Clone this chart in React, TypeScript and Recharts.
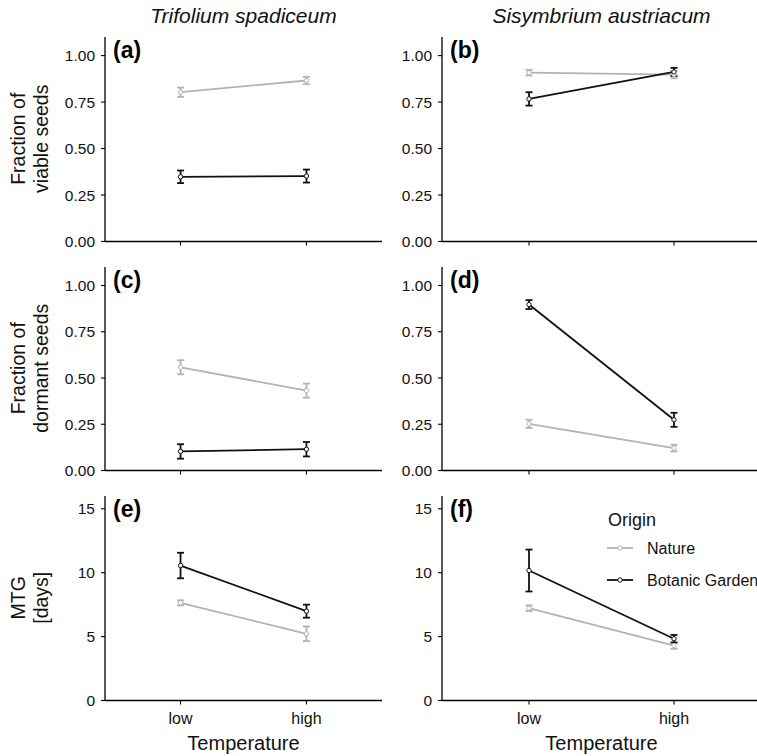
import { LineChart, Line, XAxis, YAxis, ErrorBar } from 'recharts'

const FONT = '"Liberation Sans", Arial, sans-serif'
const GREY = '#b3b3b3'
const BLACK = '#111111'

// x categories
const temps = ['low', 'high']
const tempPos = [1, 2]

// y ticks
const fracTicks = [0, 0.25, 0.5, 0.75, 1]
const mtgTicks = [0, 5, 10, 15]

// (a) Trifolium – viable
const aNature = [0.803, 0.866]
const aNatureSe = [0.025, 0.02]
const aBotanic = [0.348, 0.352]
const aBotanicSe = [0.034, 0.035]

// (b) Sisymbrium – viable
const bNature = [0.908, 0.898]
const bNatureSe = [0.015, 0.02]
const bBotanic = [0.767, 0.912]
const bBotanicSe = [0.036, 0.022]

// (c) Trifolium – dormant
const cNature = [0.558, 0.432]
const cNatureSe = [0.038, 0.038]
const cBotanic = [0.103, 0.115]
const cBotanicSe = [0.039, 0.039]

// (d) Sisymbrium – dormant
const dNature = [0.252, 0.121]
const dNatureSe = [0.022, 0.018]
const dBotanic = [0.897, 0.274]
const dBotanicSe = [0.024, 0.038]

// (e) Trifolium – MTG
const eNature = [7.64, 5.22]
const eNatureSe = [0.2, 0.57]
const eBotanic = [10.56, 6.99]
const eBotanicSe = [1.0, 0.51]

// (f) Sisymbrium – MTG
const fNature = [7.22, 4.3]
const fNatureSe = [0.22, 0.26]
const fBotanic = [10.17, 4.83]
const fBotanicSe = [1.64, 0.3]

const build = (nat: number[], natSe: number[], bot: number[], botSe: number[]) =>
  temps.map((t, i) => ({
    x: tempPos[i],
    nat: nat[i],
    natErr: natSe[i],
    bot: bot[i],
    botErr: botSe[i],
  }))

interface PanelProps {
  data: ReturnType<typeof build>
  x: number
  y: number
  w: number
  h: number
  yMax: number
  ticks: number[]
  fmt: (v: number) => string
  showX: boolean
}

function Panel({ data, x, y, w, h, yMax, ticks, fmt, showX }: PanelProps) {
  return (
    <div style={{ position: 'absolute', left: x - 60, top: y - 10 }}>
      <LineChart width={w + 65} height={h + 50} data={data} margin={{ top: 10, right: 5, bottom: 0, left: 0 }}>
        <XAxis
          type="number"
          dataKey="x"
          domain={[0.4, 2.6]}
          ticks={tempPos}
          allowDataOverflow
          height={40}
          tickSize={4}
          tickMargin={8}
          axisLine={{ stroke: '#000', strokeWidth: 1.3 }}
          tickLine={{ stroke: '#000', strokeWidth: 1.1 }}
          tick={{ fontSize: 16, fill: '#111' }}
          tickFormatter={(v: number) => (showX ? temps[v - 1] : '')}
        />
        <YAxis
          type="number"
          domain={[0, yMax]}
          ticks={ticks}
          allowDataOverflow
          width={60}
          tickSize={4}
          tickMargin={6}
          axisLine={{ stroke: '#000', strokeWidth: 1.3 }}
          tickLine={{ stroke: '#000', strokeWidth: 1.1 }}
          tick={{ fontSize: 15.5, fill: '#111' }}
          tickFormatter={fmt}
        />
        <Line
          dataKey="nat"
          stroke={GREY}
          strokeWidth={1.8}
          dot={{ r: 2.2, fill: '#fff', stroke: GREY, strokeWidth: 1 }}
          isAnimationActive={false}
        >
          <ErrorBar dataKey="natErr" width={3.5} stroke={GREY} strokeWidth={1.8} direction="y" isAnimationActive={false} />
        </Line>
        <Line
          dataKey="bot"
          stroke={BLACK}
          strokeWidth={1.8}
          dot={{ r: 2.2, fill: '#fff', stroke: BLACK, strokeWidth: 1 }}
          isAnimationActive={false}
        >
          <ErrorBar dataKey="botErr" width={3.5} stroke={BLACK} strokeWidth={1.8} direction="y" isAnimationActive={false} />
        </Line>
      </LineChart>
    </div>
  )
}

const frac = (v: number) => v.toFixed(2)
const int = (v: number) => String(v)

const COLS = [
  { x: 105, w: 277 },
  { x: 442, w: 319 },
]
const ROWS = [
  { y: 36.5, h: 204.5 },
  { y: 266.5, h: 203.5 },
  { y: 495.5, h: 204.5 },
]
const panelLabels = ['(a)', '(b)', '(c)', '(d)', '(e)', '(f)']
const rowLabels = [
  ['Fraction of', 'viable seeds'],
  ['Fraction of', 'dormant seeds'],
  ['MTG', '[days]'],
]
const species = ['Trifolium spadiceum', 'Sisymbrium austriacum']

export default function App() {
  const panels = [
    { data: build(aNature, aNatureSe, aBotanic, aBotanicSe), r: 0, c: 0 },
    { data: build(bNature, bNatureSe, bBotanic, bBotanicSe), r: 0, c: 1 },
    { data: build(cNature, cNatureSe, cBotanic, cBotanicSe), r: 1, c: 0 },
    { data: build(dNature, dNatureSe, dBotanic, dBotanicSe), r: 1, c: 1 },
    { data: build(eNature, eNatureSe, eBotanic, eBotanicSe), r: 2, c: 0 },
    { data: build(fNature, fNatureSe, fBotanic, fBotanicSe), r: 2, c: 1 },
  ]

  return (
    <div
      style={{
        position: 'absolute',
        left: 0,
        top: 0,
        width: 757,
        height: 756,
        overflow: 'hidden',
        background: '#fff',
        fontFamily: FONT,
      }}
    >
      {panels.map((p, i) => (
        <Panel
          key={i}
          data={p.data}
          x={COLS[p.c].x}
          w={COLS[p.c].w}
          y={ROWS[p.r].y}
          h={ROWS[p.r].h}
          yMax={p.r === 2 ? 16 : 1.1}
          ticks={p.r === 2 ? mtgTicks : fracTicks}
          fmt={p.r === 2 ? int : frac}
          showX={p.r === 2}
        />
      ))}

      <svg
        width={757}
        height={756}
        style={{ position: 'absolute', left: 0, top: 0, pointerEvents: 'none', fontFamily: FONT }}
      >
        {/* species titles */}
        {species.map((s, c) => (
          <text key={s} x={COLS[c].x + COLS[c].w / 2} y={23} textAnchor="middle" fontSize={21} fontStyle="italic" fill="#111">
            {s}
          </text>
        ))}

        {/* panel letters */}
        {panels.map((p, i) => (
          <text key={i} x={COLS[p.c].x + 8} y={ROWS[p.r].y + 21.5} fontSize={23} fontWeight="bold" fill="#000">
            {panelLabels[i]}
          </text>
        ))}

        {/* y axis titles */}
        {rowLabels.map((lines, r) => {
          const cy = ROWS[r].y + ROWS[r].h / 2
          return (
            <g key={r}>
              <text x={25} y={cy} transform={`rotate(-90 25 ${cy})`} textAnchor="middle" fontSize={19.5} fill="#111">
                {lines[0]}
              </text>
              <text x={48} y={cy} transform={`rotate(-90 48 ${cy})`} textAnchor="middle" fontSize={19.5} fill="#111">
                {lines[1]}
              </text>
            </g>
          )
        })}

        {/* x axis titles */}
        {COLS.map((c, i) => (
          <text key={i} x={c.x + c.w / 2} y={750} textAnchor="middle" fontSize={20} fill="#111">
            Temperature
          </text>
        ))}

        {/* legend */}
        <text x={608} y={526} fontSize={18} fill="#111">
          Origin
        </text>
        <line x1={607} x2={633} y1={548} y2={548} stroke={GREY} strokeWidth={1.8} />
        <circle cx={620} cy={548} r={2.2} fill="#fff" stroke={GREY} strokeWidth={1} />
        <text x={647} y={554} fontSize={16} fill="#111">
          Nature
        </text>
        <line x1={607} x2={633} y1={580} y2={580} stroke={BLACK} strokeWidth={1.8} />
        <circle cx={620} cy={580} r={2.2} fill="#fff" stroke={BLACK} strokeWidth={1} />
        <text x={647} y={586} fontSize={16} fill="#111">
          Botanic Garden
        </text>
      </svg>
    </div>
  )
}
